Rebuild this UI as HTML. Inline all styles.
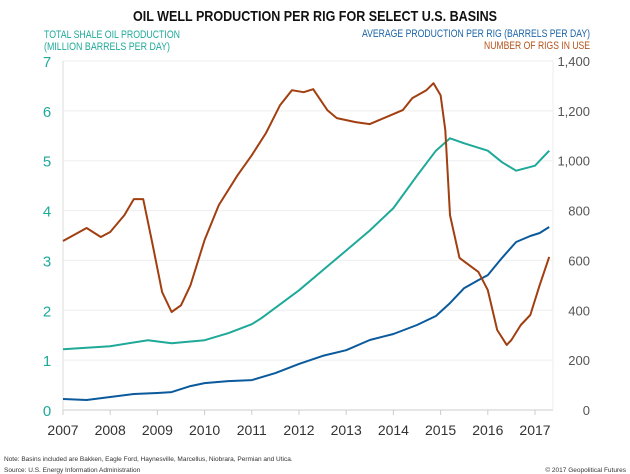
<!DOCTYPE html>
<html><head><meta charset="utf-8"><style>
body{margin:0;background:#fff;width:630px;height:474px;overflow:hidden;font-family:"Liberation Sans",sans-serif}
svg{display:block}
</style></head><body>
<svg id="c" width="630" height="474">
<text x="315" y="21" text-anchor="middle" font-size="15" font-weight="bold" fill="#111" textLength="364" lengthAdjust="spacingAndGlyphs">OIL WELL PRODUCTION PER RIG FOR SELECT U.S. BASINS</text>
<text x="44" y="38" font-size="11" fill="#1fa999"><tspan x="44" textLength="136" lengthAdjust="spacingAndGlyphs">TOTAL SHALE OIL PRODUCTION</tspan><tspan x="44" dy="12" textLength="126" lengthAdjust="spacingAndGlyphs">(MILLION BARRELS PER DAY)</tspan></text>
<text x="590" y="37" font-size="11" fill="#1a64a8" text-anchor="end" textLength="228" lengthAdjust="spacingAndGlyphs">AVERAGE PRODUCTION PER RIG (BARRELS PER DAY)</text>
<text x="590" y="49" font-size="11" fill="#b5531c" text-anchor="end" textLength="106" lengthAdjust="spacingAndGlyphs">NUMBER OF RIGS IN USE</text>
<text x="4" y="461" font-size="6.5" fill="#333">Note: Basins included are Bakken, Eagle Ford, Haynesville, Marcellus, Niobrara, Permian and Utica.</text>
<text x="4" y="472" font-size="6.5" fill="#333">Source: U.S. Energy Information Administration</text>
<text x="626" y="472" font-size="6.5" fill="#333" text-anchor="end">© 2017 Geopolitical Futures</text>
<g id="g"></g>
</svg>
<script>
const years=[2007,2008,2009,2010,2011,2012,2013,2014,2015,2016,2017];
const leftTicks=[0,1,2,3,4,5,6,7];
const rightTicks=[0,200,400,600,800,1000,1200,1400];
const rightLabels=["0","200","400","600","800","1,000","1,200","1,400"];
const shaleT=[2007,2008,2008.8,2009.3,2010,2010.5,2011,2011.2,2011.5,2012,2012.5,2013,2013.5,2014,2014.5,2014.9,2015.2,2015.5,2016,2016.3,2016.6,2016.8,2017,2017.3];
const shaleV=[1.22,1.28,1.4,1.34,1.4,1.54,1.72,1.84,2.05,2.4,2.8,3.2,3.6,4.05,4.7,5.2,5.45,5.35,5.2,4.97,4.8,4.85,4.9,5.2];
const avgT=[2007,2007.5,2008,2008.5,2009,2009.3,2009.7,2010,2010.5,2011,2011.5,2012,2012.5,2013,2013.5,2014,2014.5,2014.9,2015.2,2015.5,2015.8,2016,2016.3,2016.6,2016.9,2017.1,2017.3];
const avgV=[44,40,52,64,68,72,96,108,116,120,148,185,217,240,281,305,341,377,429,489,521,541,610,674,698,710,734];
const rigT=[2007,2007.5,2007.8,2008,2008.3,2008.5,2008.7,2008.9,2009.1,2009.3,2009.5,2009.7,2010,2010.3,2010.7,2011,2011.3,2011.6,2011.85,2012.1,2012.3,2012.6,2012.8,2013.2,2013.5,2013.7,2013.9,2014.2,2014.4,2014.7,2014.85,2015,2015.1,2015.2,2015.4,2015.6,2015.8,2016,2016.2,2016.4,2016.5,2016.7,2016.9,2017.1,2017.3];
const rigV=[678,730,694,714,782,846,846,662,473,393,420,500,682,822,942,1022,1111,1223,1283,1275,1287,1203,1171,1155,1147,1163,1179,1203,1251,1283,1311,1263,1123,782,610,582,554,481,321,261,281,341,381,501,614];
const X0=63,XW=47.2,Y0=410,YT=61;
const x=t=>X0+(t-2007)*XW;
const yl=v=>Y0-v*(Y0-YT)/7;
const yr=v=>Y0-v*(Y0-YT)/1400;
const g=document.getElementById('g');
const NS='http://www.w3.org/2000/svg';
function mk(tag,a){const e=document.createElementNS(NS,tag);for(const k in a)e.setAttribute(k,a[k]);g.appendChild(e);return e;}
leftTicks.forEach((v,i)=>{
 const l=mk('line',{x1:X0,x2:553,y1:yl(v),y2:yl(v),stroke:i==0?'#ccc':'#eee','stroke-width':1});
 
 
 const t=mk('text',{x:47,y:yl(v)+6,'font-size':15,fill:'#1fa999','text-anchor':'middle'});
 t.textContent=v;
 
 
});
rightTicks.forEach((v,i)=>{
 const t=mk('text',{x:590,y:yr(v)+5,'font-size':13,fill:'#555','text-anchor':'end'});
 t.textContent=rightLabels[i];
 
 
});
const ax=mk('line',{x1:X0,x2:X0,y1:YT,y2:Y0,stroke:'#ddd'});


const ax2=mk('line',{x1:553,x2:553,y1:YT,y2:Y0,stroke:'#eee'});


years.forEach(yv=>{
 const tk=mk('line',{x1:x(yv),x2:x(yv),y1:Y0,y2:Y0+5,stroke:'#ccc'});
 
 
 const t=mk('text',{x:x(yv),y:Y0+25,'font-size':14,fill:'#333','text-anchor':'middle'});
 t.textContent=yv;
 
 
});
function line(T,V,fy,col,name){
 const d=T.map((t,i)=>(i?'L':'M')+x(t).toFixed(1)+','+fy(V[i]).toFixed(1)).join('');
 const p=mk('path',{d:d,fill:'none',stroke:col,'stroke-width':2,'stroke-linejoin':'round'});
 
 
}
line(shaleT,shaleV,yl,'#1fa999','shale-production-line');
line(avgT,avgV,yr,'#0a5a9c','avg-production-per-rig-line');
line(rigT,rigV,yr,'#a13f10','rig-count-line');
</script>
</body></html>
